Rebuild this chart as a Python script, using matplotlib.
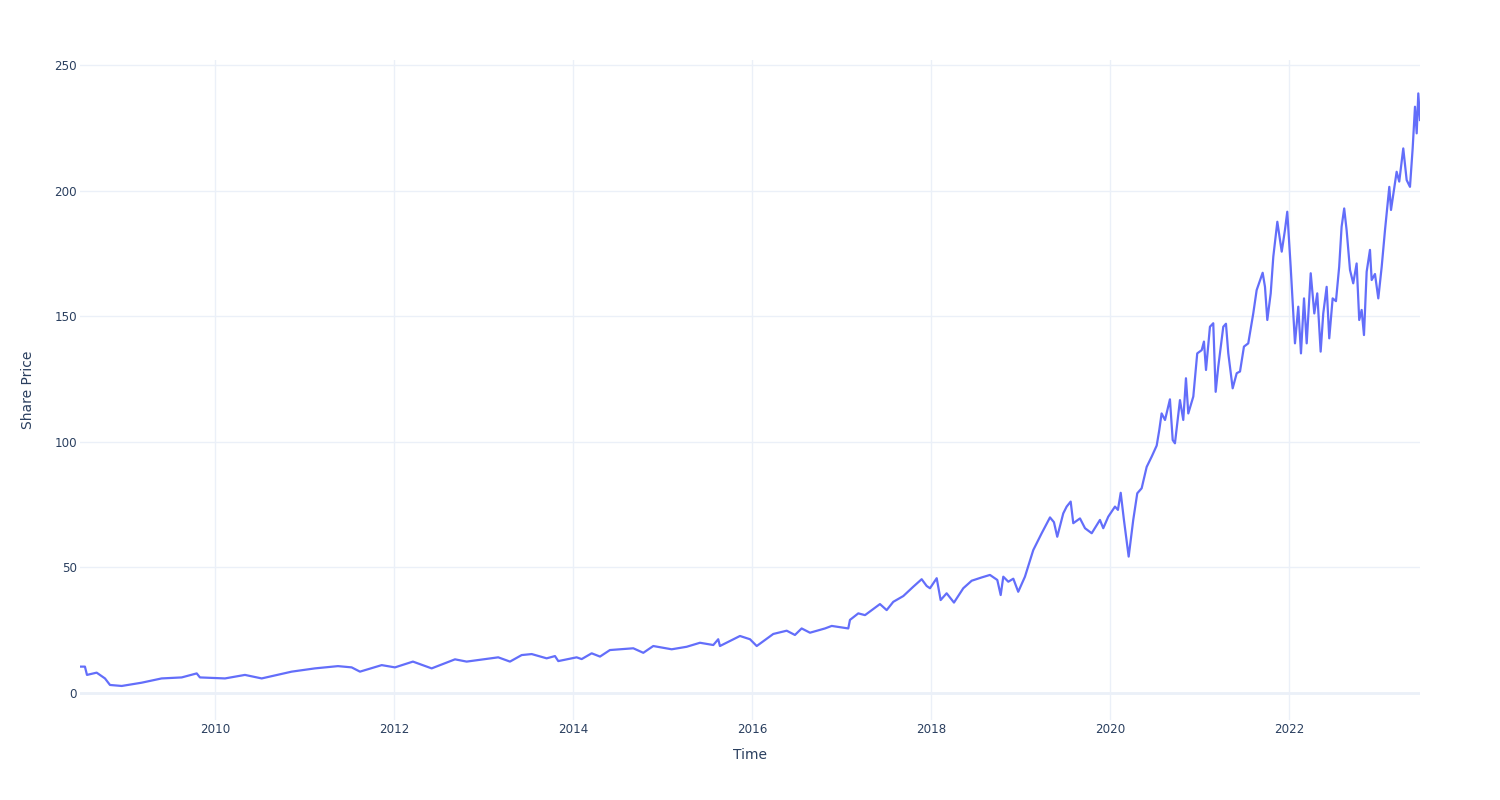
import numpy as np
import pandas as pd
import matplotlib
matplotlib.use('Agg')
import matplotlib.pyplot as plt
import matplotlib.dates as mdates

# time as decimal years, price
years = [2008.492, 2008.547, 2008.570, 2008.678, 2008.771, 2008.827, 2008.958, 2009.181,
         2009.404, 2009.628, 2009.796, 2009.832, 2010.112, 2010.335, 2010.522, 2010.857,
         2011.117, 2011.374, 2011.527, 2011.620, 2011.863, 2012.011, 2012.212, 2012.421,
         2012.682, 2012.812, 2013.165, 2013.296, 2013.427, 2013.539, 2013.706, 2013.799,
         2013.836, 2014.041, 2014.097, 2014.209, 2014.302, 2014.413, 2014.674, 2014.786,
         2014.897, 2015.103, 2015.270, 2015.419, 2015.568, 2015.623, 2015.642, 2015.866,
         2015.978, 2016.053, 2016.238, 2016.388, 2016.480, 2016.555, 2016.648, 2016.816,
         2016.891, 2017.076, 2017.095, 2017.188, 2017.263, 2017.430, 2017.505, 2017.579,
         2017.691, 2017.802, 2017.896, 2017.952, 2017.989, 2018.064, 2018.108, 2018.175,
         2018.257, 2018.361, 2018.455, 2018.566, 2018.659, 2018.741, 2018.779, 2018.808,
         2018.864, 2018.920, 2018.975, 2019.050, 2019.143, 2019.237, 2019.330, 2019.374,
         2019.411, 2019.478, 2019.516, 2019.561, 2019.590, 2019.665, 2019.721, 2019.796,
         2019.888, 2019.925, 2019.981, 2020.056, 2020.089, 2020.120, 2020.156, 2020.209,
         2020.260, 2020.305, 2020.354, 2020.410, 2020.466, 2020.522, 2020.551, 2020.577,
         2020.615, 2020.670, 2020.701, 2020.726, 2020.782, 2020.819, 2020.849, 2020.875,
         2020.931, 2020.975, 2021.025, 2021.050, 2021.073, 2021.117, 2021.154, 2021.181,
         2021.210, 2021.266, 2021.296, 2021.322, 2021.371, 2021.416, 2021.453, 2021.497,
         2021.545, 2021.601, 2021.639, 2021.706, 2021.732, 2021.758, 2021.796, 2021.825,
         2021.870, 2021.919, 2021.955, 2021.981, 2022.019, 2022.067, 2022.104, 2022.134,
         2022.168, 2022.198, 2022.243, 2022.283, 2022.316, 2022.354, 2022.383, 2022.421,
         2022.450, 2022.488, 2022.525, 2022.561, 2022.588, 2022.617, 2022.644, 2022.682,
         2022.718, 2022.756, 2022.785, 2022.812, 2022.838, 2022.868, 2022.905, 2022.924,
         2022.961, 2022.998, 2023.036, 2023.073, 2023.121, 2023.140, 2023.203, 2023.232,
         2023.277, 2023.315, 2023.352, 2023.382, 2023.408, 2023.427, 2023.445, 2023.464]

price = [10.5, 10.5, 7.2, 8.1, 5.8, 3.2, 2.8, 4.1,
         5.8, 6.2, 7.8, 6.2, 5.8, 7.2, 5.8, 8.5,
         9.8, 10.7, 10.2, 8.5, 11.1, 10.2, 12.5, 9.8,
         13.4, 12.5, 14.2, 12.5, 15.1, 15.5, 13.8, 14.7,
         12.7, 14.2, 13.5, 15.8, 14.5, 17.1, 17.8, 16.0,
         18.7, 17.4, 18.4, 20.0, 19.1, 21.4, 18.7, 22.7,
         21.4, 18.7, 23.5, 24.8, 23.1, 25.7, 24.0, 25.7,
         26.7, 25.7, 29.1, 31.7, 31.0, 35.4, 33.0, 36.3,
         38.6, 42.3, 45.3, 42.6, 41.7, 45.7, 37.0, 39.7,
         36.0, 41.7, 44.7, 46.0, 47.0, 45.0, 39.0, 46.3,
         44.3, 45.5, 40.3, 46.3, 56.9, 63.6, 69.9, 68.0,
         62.2, 71.5, 74.2, 76.2, 67.6, 69.5, 65.6, 63.6,
         68.9, 65.6, 70.2, 74.2, 72.9, 79.7, 68.9, 54.3,
         68.9, 79.5, 81.5, 90.0, 94.1, 98.5, 104.7, 111.3,
         108.7, 116.9, 100.7, 99.4, 116.6, 108.7, 125.3, 111.3,
         118.0, 135.2, 136.5, 139.9, 128.6, 145.8, 147.2, 119.9,
         129.9, 145.8, 147.0, 135.2, 121.3, 127.3, 128.0, 137.9,
         139.2, 151.1, 160.4, 167.3, 161.7, 148.5, 159.1, 173.7,
         187.6, 175.7, 184.3, 191.6, 169.7, 139.2, 153.8, 135.2,
         157.1, 139.2, 167.1, 151.1, 159.1, 135.9, 151.1, 161.7,
         141.2, 157.1, 156.0, 169.7, 185.6, 192.9, 184.3, 168.4,
         163.1, 171.0, 148.5, 152.5, 142.5, 167.7, 176.4, 164.4,
         166.8, 157.1, 169.7, 184.3, 201.5, 192.3, 207.5, 203.6,
         216.8, 204.2, 201.5, 216.8, 233.4, 222.8, 238.7, 228.1]

x_ticks = [2010, 2012, 2014, 2016, 2018, 2020, 2022]
y_ticks = [0, 50, 100, 150, 200, 250]

yrs = np.array(years)
dates = pd.to_datetime('2010-01-01') + pd.to_timedelta((yrs - 2010) * 365.25, unit='D')

grid_c = '#EBF0F8'
text_c = '#2a3f5f'

fig = plt.figure(figsize=(15, 8), dpi=100)
ax = fig.add_axes([80 / 1500, 80 / 800, 1340 / 1500, 660 / 800])

ax.plot(dates, price, color='#636efa', lw=1.6, zorder=3)

ax.set_xlim(dates[0], dates[-1])
ax.set_ylim(-10.75, 252)

ax.set_xticks([pd.Timestamp(f'{y}-01-01') for y in x_ticks])
ax.xaxis.set_major_formatter(mdates.DateFormatter('%Y'))
ax.set_yticks(y_ticks)

ax.grid(True, color=grid_c, lw=1)
ax.axhline(0, color=grid_c, lw=2, zorder=2)
ax.set_axisbelow(True)
for s in ax.spines.values():
    s.set_visible(False)
ax.tick_params(length=0, labelsize=8.6, labelcolor=text_c)
ax.tick_params(axis='x', pad=2)
ax.tick_params(axis='y', pad=2)

ax.set_xlabel('Time', fontsize=10, color=text_c, labelpad=9)
ax.set_ylabel('Share Price', fontsize=10, color=text_c, labelpad=14)

fig.savefig('out.png', dpi=100)
